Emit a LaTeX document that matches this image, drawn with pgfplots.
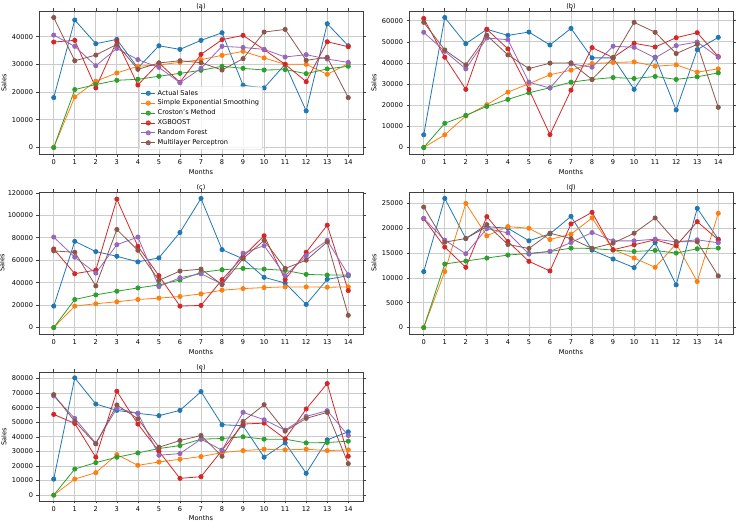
\documentclass[border=0pt]{standalone}
\usepackage{fontspec}
\setmainfont{DejaVu Sans}
\usepackage{pgfplots}
\usepackage{pgfplotstable}
\pgfplotsset{compat=1.18}

\definecolor{c0}{HTML}{1F77B4}
\definecolor{c1}{HTML}{FF7F0E}
\definecolor{c2}{HTML}{2CA02C}
\definecolor{c3}{HTML}{D62728}
\definecolor{c4}{HTML}{9467BD}
\definecolor{c5}{HTML}{8C564B}

% monthly sales and model forecasts, one table per panel
\pgfplotstableread{
m act ses cro xgb rf mlp
0 18000 0 0 38050 40550 46900
1 46000 18250 20900 38650 36500 31300
2 37450 23900 22700 21500 29500 33350
3 39000 26900 24250 38400 35750 37200
4 28700 29300 24600 22550 31700 28200
5 36700 29800 25700 30500 28900 30500
6 35400 30700 26750 23500 23400 31300
7 38650 31700 27850 33600 28550 30600
8 41400 33250 29300 38900 36500 27950
9 22450 34700 28550 40450 36100 32050
10 21500 32300 27950 35300 35400 41650
11 30000 30000 28100 30000 32650 42600
12 13200 30000 26650 23750 33500 31450
13 44650 26400 28350 38150 31900 32550
14 36700 30250 29300 36350 30700 18000
}\tblA
\pgfplotstableread{
m act ses cro xgb rf mlp
0 6000 0 0 61050 54500 59200
1 61500 6000 11450 42700 45500 46150
2 49100 14900 15200 27500 37200 39100
3 55900 20250 19450 55900 51800 53050
4 53050 26200 22750 46650 51000 43800
5 54600 30150 25900 27500 30900 37350
6 48500 34400 28250 6100 28100 39900
7 56350 36600 30900 27150 39550 40050
8 42400 39700 32200 47250 38000 32200
9 42400 40200 33100 42550 47900 42400
10 27500 40500 32650 49300 47400 59200
11 42700 38450 33600 47550 42400 54500
12 17750 39100 32200 51950 48200 44450
13 46300 35650 33450 54300 49900 48800
14 52100 37200 35300 43000 42700 19000
}\tblB
\pgfplotstableread{
m act ses cro xgb rf mlp
0 19100 0 0 70000 80600 68250
1 76800 19100 25000 47950 62650 67050
2 67650 21200 29100 51200 48500 37050
3 63500 22950 32350 114400 73800 87350
4 58500 25000 35300 72350 80600 68800
5 62050 26200 37950 46200 36500 42050
6 84700 27650 42350 19100 44400 50300
7 115000 30000 49100 19700 47950 52050
8 69400 33250 51500 42650 38800 38250
9 61200 34700 52650 63250 66200 61450
10 44700 35600 52050 81750 72950 77650
11 39700 36200 50900 42650 46200 52650
12 20600 36200 47350 67050 64100 60000
13 42950 35900 46750 91200 77650 76200
14 46200 36200 46750 32950 47050 10900
}\tblC
\pgfplotstableread{
m act ses cro xgb rf mlp
0 11270 0 0 21930 22000 24270
1 26000 11270 12800 16200 17600 17200
2 17930 25000 13400 12130 14870 17930
3 20330 18470 14000 22330 19930 20730
4 20000 20330 14600 17330 19070 16730
5 17470 20000 14930 13330 14800 15930
6 18870 17730 15330 11400 15330 19000
7 22400 18800 16000 20870 17130 17930
8 15600 22070 15930 23200 19130 15930
9 13800 15700 15600 15670 17460 17000
10 12070 14000 15330 16670 17460 19000
11 17130 12130 15530 17670 17800 22070
12 8600 16870 15000 16470 17270 17270
13 24000 9270 15870 21330 17670 17270
14 17800 23000 16000 17670 17070 10400
}\tblD
\pgfplotstableread{
m act ses cro xgb rf mlp
0 11000 0 0 55400 68050 68950
1 80450 11000 17900 49200 52650 50550
2 62500 15400 22300 26000 35650 35150
3 58150 27800 26000 71250 59550 61850
4 56100 20450 28950 48750 56100 52400
5 54500 22750 31950 30100 27350 32850
6 58150 24600 34000 11500 28500 37450
7 71000 26450 38400 12650 38400 40900
8 48300 29200 38850 30800 30800 26650
9 47600 30550 40000 48750 56800 50550
10 26000 31500 38400 49400 51700 62050
11 35850 31050 38400 38600 44600 43900
12 14950 31500 35850 59100 54000 52650
13 37950 30550 36100 76550 57950 56800
14 43450 31050 37000 26650 40900 21600
}\tblE

\newcommand\fs{\fontsize{6.6}{8}\selectfont}

\pgfplotsset{
  panel/.style={
    scale only axis, width=324pt, height=143pt,
    anchor=north west,
    xmin=-0.7, xmax=14.7, xtick={0,...,14},
    grid=major, grid style={color=black!20, line width=0.7pt},
    axis line style={black!75, line width=0.6pt},
    tick align=outside, major tick length=2.5pt,
    tick style={black!75, line width=0.6pt},
    tick label style={font=\fs},
    xlabel style={font=\fs, yshift=2pt},
    every axis y label/.style={at={(rel axis cs:0,0.5)}, rotate=90,
      anchor=south, yshift=29pt, font=\fs},
    title style={font=\fs, yshift=-7.5pt},
    xlabel=Months, ylabel=Sales,
    scaled y ticks=false,
    yticklabel style={/pgf/number format/fixed, /pgf/number format/1000 sep={}},
    /pgf/number format/assume math mode=true,
    cycle list={
      {c0, mark=*}, {c1, mark=*}, {c2, mark=*},
      {c3, mark=*}, {c4, mark=*}, {c5, mark=*}},
    every axis plot/.append style={line width=0.8pt, mark size=2.1pt},
  }
}

\newcommand\allseries[1]{%
  \addplot table[x=m, y=act]{#1};
  \addplot table[x=m, y=ses]{#1};
  \addplot table[x=m, y=cro]{#1};
  \addplot table[x=m, y=xgb]{#1};
  \addplot table[x=m, y=rf]{#1};
  \addplot table[x=m, y=mlp]{#1};
}

\begin{document}
\begin{tikzpicture}
\begin{axis}[panel, at={(39pt,-11pt)}, title={(a)},
  ymin=-2345, ymax=49245, ytick={0,10000,...,40000},
  legend style={at={(0.5,0.03)}, anchor=south, font=\fs,
    draw=black!20, rounded corners=2pt, fill=white, fill opacity=0.8,
    text opacity=1, cells={anchor=west}, row sep=-0.6pt,
    inner sep=1.5pt},
  legend image code/.code={
    \draw[mark repeat=2, mark phase=2] plot coordinates {(0pt,0pt) (7pt,0pt) (14pt,0pt)};}]
\allseries{\tblA}
\legend{Actual Sales, Simple Exponential Smoothing, Croston's Method, XGBOOST, Random Forest, Multilayer Perceptron}
\end{axis}
\begin{axis}[panel, at={(409pt,-11pt)}, title={(b)},
  ymin=-3075, ymax=64575, ytick={0,10000,...,60000}]
\allseries{\tblB}
\end{axis}
\begin{axis}[panel, at={(39pt,-192pt)}, height=142pt, title={(c)},
  ymin=-5750, ymax=120750, ytick={0,20000,...,120000},
  every axis y label/.append style={yshift=2pt}]
\allseries{\tblC}
\end{axis}
\begin{axis}[panel, at={(409pt,-192pt)}, height=142pt, title={(d)},
  ymin=-1300, ymax=27300, ytick={0,5000,...,25000}]
\allseries{\tblD}
\end{axis}
\begin{axis}[panel, at={(39pt,-372pt)}, height=129pt, title={(e)},
  ymin=-4022, ymax=84472, ytick={0,10000,...,80000},
  xlabel style={yshift=1.5pt}]
\allseries{\tblE}
\end{axis}
\pgfresetboundingbox
\path[use as bounding box] (0,0) rectangle (740pt,-521pt);
\end{tikzpicture}
\end{document}
